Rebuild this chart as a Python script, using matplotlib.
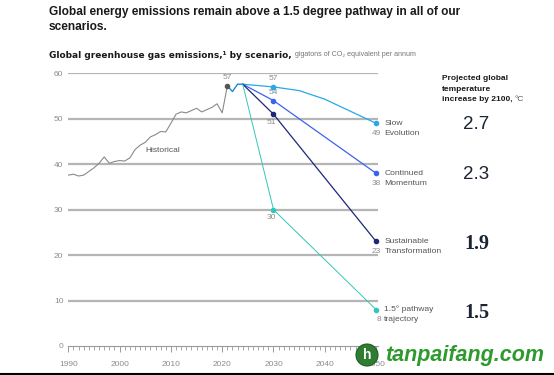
import matplotlib
matplotlib.use("Agg")
import matplotlib.pyplot as plt
from matplotlib.lines import Line2D
from matplotlib.patches import Ellipse

plt.rcParams['font.family'] = ['Liberation Sans', 'DejaVu Sans']

# ---------------- data ----------------
hist_years = list(range(1990, 2022))
hist_vals = [37.6, 37.8, 37.4, 37.6, 38.4, 39.2, 40.2, 41.6, 40.2, 40.6,
             40.8, 40.7, 41.4, 43.2, 44.2, 44.8, 46.0, 46.5, 47.2, 47.1,
             49.0, 51.0, 51.5, 51.3, 51.8, 52.3, 51.5, 52.0, 52.5, 53.3,
             51.3, 57.2]

shared_years = [2021, 2022, 2023, 2024]
shared_vals = [57.2, 56.0, 57.6, 57.6]

slow_years = [2024, 2030, 2035, 2040, 2050]
slow_vals = [57.6, 57.0, 56.2, 54.3, 49.0]

cont_years = [2024, 2030, 2050]
cont_vals = [57.6, 54.0, 38.0]

sust_years = [2024, 2030, 2050]
sust_vals = [57.6, 51.0, 23.0]

path_years = [2024, 2030, 2050]
path_vals = [57.6, 30.0, 8.0]

scenario_names = [["Slow", "Evolution"], ["Continued", "Momentum"],
                  ["Sustainable", "Transformation"], ["1.5° pathway", "trajectory"]]
scenario_temps = ["2.7", "2.3", "1.9", "1.5"]
label_2030 = ["57", "54", "51", "30"]
label_2050 = ["49", "38", "23", "8"]

y_ticks = [0, 10, 20, 30, 40, 50, 60]
x_ticks = [1990, 2000, 2010, 2020, 2030, 2040, 2050]

# ---------------- styles ----------------
c_slow = "#27a9e6"
c_cont = "#3c62f2"
c_sust = "#1b2878"
c_path = "#33c6bd"
c_grid = "#b5b5b5"
c_lab = "#8c8c8c"
c_txt = "#555555"

W, H = 554, 375
fig = plt.figure(figsize=(W / 100, H / 100), dpi=100)

left, right = 68.3, 378.0
top, bottom = 73.3, 346.0
ax = fig.add_axes([left / W, 1 - bottom / H, (right - left) / W, (bottom - top) / H])
ax.set_xlim(1990, 1990 + (right - left) / 5.13)
ax.set_ylim(0, 60)

for s in ["top", "right", "left"]:
    ax.spines[s].set_visible(False)
ax.spines["bottom"].set_color("#9a9a9a")
ax.spines["bottom"].set_linewidth(0.8)

for y in y_ticks[1:]:
    ax.axhline(y, color=c_grid, lw=1.6, zorder=1)

ax.set_yticks(y_ticks)
ax.set_yticklabels([str(v) for v in y_ticks])
ax.tick_params(axis="y", length=0, pad=3.5, labelsize=6, labelcolor=c_lab)

ax.set_xticks(x_ticks)
ax.set_xticklabels([str(v) for v in x_ticks])
ax.set_xticks(list(range(1990, 2051)), minor=True)
ax.tick_params(axis="x", which="major", length=4.6, width=0.7, color="#9a9a9a",
               direction="out", pad=6, labelsize=6, labelcolor=c_lab)
ax.tick_params(axis="x", which="minor", length=3.0, width=0.6, color="#9a9a9a",
               direction="out")

# historical
ax.plot(hist_years, hist_vals, color="#8a8a8a", lw=0.8, zorder=3)
ax.plot([hist_years[-1]], [hist_vals[-1]], "o", color="#555555", ms=3, zorder=5)
ax.text(hist_years[-1], hist_vals[-1] + 1.2, "57", ha="center", va="bottom",
        fontsize=6, color=c_lab)
ax.text(2008.5, 43.1, "Historical", fontsize=6, color=c_txt, va="center", ha="center")

# shared path
ax.plot(shared_years, shared_vals, color=c_slow, lw=1.0, zorder=4)
ax.plot(shared_years, shared_vals, color=c_sust, lw=0.6, alpha=0.35, zorder=4)

series = [(slow_years, slow_vals, c_slow, 0.9),
          (cont_years, cont_vals, c_cont, 0.9),
          (sust_years, sust_vals, c_sust, 0.9),
          (path_years, path_vals, c_path, 0.7)]

for i, (xs, ys, col, lw) in enumerate(series):
    ax.plot(xs, ys, color=col, lw=lw, zorder=4)
    y30 = ys[xs.index(2030)]
    ax.plot([2030, xs[-1]], [y30, ys[-1]], "o", color=col, ms=3, lw=0, zorder=5,
            clip_on=False)
    if i in (0, 1):
        ax.text(2030, y30 + 1.0, label_2030[i], ha="center", va="bottom",
                fontsize=6, color=c_lab)
    else:
        ax.text(2029.6, y30 - 1.0, label_2030[i], ha="center", va="top",
                fontsize=6, color=c_lab)
    ax.text(2051.6, ys[-1], scenario_names[i][0], ha="left", va="center",
            fontsize=6.1, color=c_txt, clip_on=False)
    ax.text(2051.6, ys[-1] - 2.2, scenario_names[i][1], ha="left", va="center",
            fontsize=6.1, color=c_txt, clip_on=False)
    ax.text(2051.0, ys[-1] - 2.2, label_2050[i], ha="right", va="center",
            fontsize=6, color=c_lab, clip_on=False)
    # temperature
    ypix = bottom - ys[-1] / 60 * (bottom - top)
    if i < 2:
        fig.text(476 / W, 1 - (ypix + 1.5) / H, scenario_temps[i], ha="center",
                 va="center", fontsize=13.5, color="#1b2433", family="Liberation Sans")
    else:
        fig.text(477 / W, 1 - (ypix + 3) / H, scenario_temps[i], ha="center",
                 va="center", fontsize=14.5, color="#1b2433", family="Liberation Serif",
                 fontweight="bold")

# ---------------- titles ----------------
fig.text(49 / W, 1 - 19.5 / H, "Global energy emissions remain above a 1.5 degree pathway in all of our\nscenarios.",
         fontsize=8.6, fontweight="bold", color="#1a1a1a", va="center", ha="left",
         linespacing=1.35)

fig.canvas.draw()
r = fig.canvas.get_renderer()
t1 = fig.text(49 / W, 1 - 55 / H, "Global greenhouse gas emissions,\u00b9 by scenario,",
              fontsize=6.5, fontweight="bold", color="#1a1a1a", va="center", ha="left",
              family="DejaVu Sans")
bb = t1.get_window_extent(renderer=r)
fig.text((bb.x1 + 3) / W, 1 - 55 / H, "gigatons of CO\u2082 equivalent per annum",
         fontsize=5.1, color="#777777", va="center", ha="left")

hdr_kw = dict(fontsize=6.0, fontweight="bold", va="top", ha="left", linespacing=1.65)
fig.text(442 / W, 1 - 75.5 / H, "Projected global\ntemperature\nincrease by 2100,",
         color="#1a1a1a", **hdr_kw)
t2 = fig.text(442 / W, 1 - 75.5 / H, "\n\nincrease by 2100,", color="none", **hdr_kw)
bb2 = t2.get_window_extent(renderer=r)
fig.text((bb2.x1 + 2) / W, bb2.y0 / H, "°C", fontsize=6.0, color="#555555",
         va="bottom", ha="left")

# ---------------- watermark ----------------
fig.add_artist(Ellipse((367 / W, 1 - 355 / H), 22 / W, 22 / H, transform=fig.transFigure,
                       facecolor="#2f7d32", edgecolor="#1f5c22", lw=0.8, zorder=10))
fig.text(367 / W, 1 - 355 / H, "h", transform=fig.transFigure, fontsize=10,
         fontweight="bold", color="white", ha="center", va="center", zorder=11)
fig.text(385 / W, 1 - 355 / H, "tanpaifang.com", fontsize=15.5, fontweight="bold",
         fontstyle="italic", color="#2e9a2e", ha="left", va="center", zorder=11)

fig.add_artist(Line2D([0, 1], [1 - 373.5 / H] * 2, transform=fig.transFigure,
                      color="black", lw=1.5))

fig.savefig("out.png", dpi=100)
